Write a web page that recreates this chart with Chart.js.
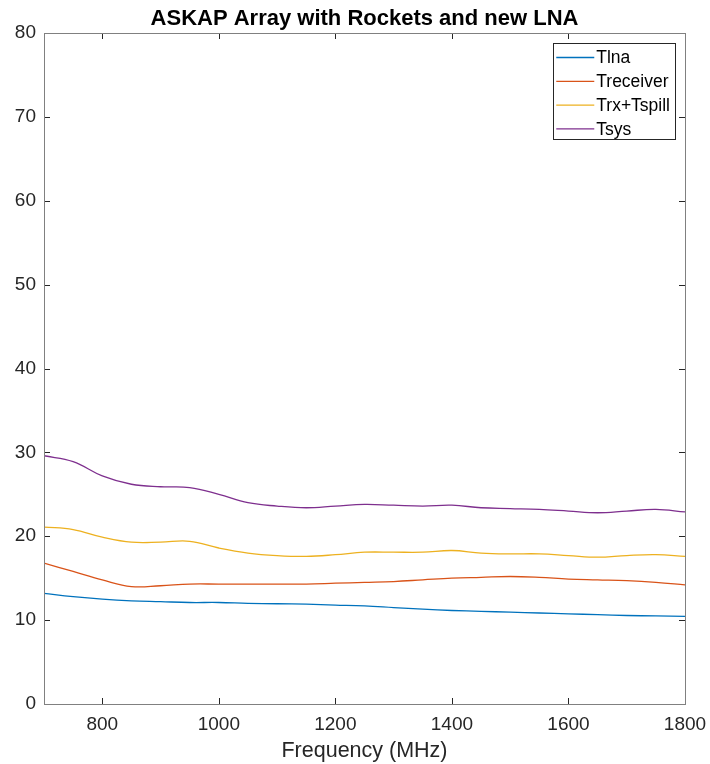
<!DOCTYPE html>
<html>
<head>
<meta charset="utf-8">
<script src="https://cdn.jsdelivr.net/npm/chart.js@4/dist/chart.umd.min.js"></script>
<style>
  html, body { margin: 0; padding: 0; background: #fff; }
  #wrap { width: 710px; height: 764px; }
</style>
</head>
<body>
<div id="wrap"><canvas id="askapChart" width="710" height="764"></canvas></div>
<script>
// frequency axis (MHz) and temperatures
const freqs = [700, 750, 800, 850, 900, 950, 1000, 1050, 1100, 1150, 1200, 1250,
  1300, 1350, 1400, 1450, 1500, 1550, 1600, 1650, 1700, 1750, 1800];
const tlna = [13.2, 12.8, 12.5, 12.3, 12.2, 12.1, 12.1, 12.0, 11.95, 11.9, 11.8, 11.7,
  11.5, 11.3, 11.15, 11.05, 10.95, 10.85, 10.75, 10.65, 10.55, 10.5, 10.45];
const treceiver = [16.8, 15.8, 14.8, 14.0, 14.1, 14.3, 14.3, 14.3, 14.3, 14.3, 14.4, 14.5,
  14.6, 14.8, 15.0, 15.1, 15.2, 15.1, 14.9, 14.8, 14.7, 14.5, 14.2];
const trxSpill = [21.1, 20.8, 19.9, 19.3, 19.3, 19.4, 18.6, 18.0, 17.7, 17.6, 17.8, 18.1,
  18.1, 18.1, 18.3, 18.0, 17.9, 17.9, 17.7, 17.5, 17.7, 17.8, 17.6];
const tsys = [29.6, 28.9, 27.2, 26.2, 25.9, 25.8, 25.0, 24.0, 23.6, 23.4, 23.6, 23.8,
  23.7, 23.6, 23.7, 23.4, 23.3, 23.2, 23.0, 22.8, 23.0, 23.2, 22.9];

const seriesNames = ['Tlna', 'Treceiver', 'Trx+Tspill', 'Tsys'];
const seriesColors = ['#0072BD', '#D95319', '#EDB120', '#7E2F8E'];

const xTicks = [800, 1000, 1200, 1400, 1600, 1800];
const yTicks = [0, 10, 20, 30, 40, 50, 60, 70, 80];

const chartTitle = 'ASKAP Array with Rockets and new LNA';

const FONT = "'Liberation Sans', Arial, Helvetica, sans-serif";
const AXIS_COLOR = '#262626';

function toPoints(ys) {
  return freqs.map((f, i) => ({ x: f, y: ys[i] }));
}

// matlab style box: frame with inward ticks on all four sides
const boxPlugin = {
  id: 'boxTicks',
  afterDatasetsDraw(chart) {
    const { ctx, chartArea: a, scales } = chart;
    const len = 6;
    ctx.save();
    ctx.strokeStyle = AXIS_COLOR;
    ctx.lineWidth = 1;
    ctx.beginPath();
    scales.x.ticks.forEach(t => {
      const px = Math.round(scales.x.getPixelForValue(t.value)) + 0.5;
      ctx.moveTo(px, a.bottom); ctx.lineTo(px, a.bottom - len);
      ctx.moveTo(px, a.top); ctx.lineTo(px, a.top + len);
    });
    scales.y.ticks.forEach(t => {
      const py = Math.round(scales.y.getPixelForValue(t.value)) + 0.5;
      ctx.moveTo(a.left, py); ctx.lineTo(a.left + len, py);
      ctx.moveTo(a.right, py); ctx.lineTo(a.right - len, py);
    });
    ctx.stroke();
    ctx.strokeStyle = '#808080';
    ctx.strokeRect(Math.round(a.left) + 0.5, Math.round(a.top) + 0.5,
      Math.round(a.right - a.left), Math.round(a.bottom - a.top));

    // title centred over the axes, like matlab
    ctx.fillStyle = '#000';
    ctx.font = 'bold 22px ' + FONT;
    ctx.textAlign = 'center';
    ctx.textBaseline = 'alphabetic';
    ctx.fillText(chartTitle, (a.left + a.right) / 2, 25);
    ctx.restore();
  }
};

// boxed legend in the top right corner
const legendPlugin = {
  id: 'boxLegend',
  afterDraw(chart) {
    const { ctx, chartArea: a } = chart;
    ctx.save();
    ctx.font = '17.5px ' + FONT;
    const labels = chart.data.datasets.map(d => d.label);
    const textW = Math.max(...labels.map(l => ctx.measureText(l).width));
    const lineLen = 38, rowH = 23.8;
    const w = 3 + lineLen + 2 + textW + 5;
    const h = rowH * labels.length + 1;
    const right = a.right - 10, top = a.top + 10;
    const left = right - w;
    ctx.fillStyle = '#fff';
    ctx.fillRect(left, top, w, h);
    ctx.strokeStyle = AXIS_COLOR;
    ctx.lineWidth = 1;
    ctx.strokeRect(Math.round(left) + 0.5, Math.round(top) + 0.5, Math.round(w), Math.round(h));
    ctx.textBaseline = 'middle';
    chart.data.datasets.forEach((d, i) => {
      const cy = top + 14.5 + rowH * i;
      ctx.strokeStyle = d.borderColor;
      ctx.lineWidth = 1.3;
      ctx.beginPath();
      ctx.moveTo(left + 3, cy);
      ctx.lineTo(left + 3 + lineLen, cy);
      ctx.stroke();
      ctx.fillStyle = '#000';
      ctx.fillText(d.label, left + 3 + lineLen + 2, cy + 1);
    });
    ctx.restore();
  }
};

window.addEventListener('DOMContentLoaded', () => {
  const ctx = document.getElementById('askapChart').getContext('2d');
  const allSeries = [tlna, treceiver, trxSpill, tsys];

  new Chart(ctx, {
    type: 'line',
    data: {
      datasets: allSeries.map((ys, i) => ({
        label: seriesNames[i],
        data: toPoints(ys),
        borderColor: seriesColors[i],
        backgroundColor: seriesColors[i],
        borderWidth: 1.3,
        pointRadius: 0,
        tension: 0.4,
        fill: false
      }))
    },
    options: {
      responsive: false,
      animation: false,
      layout: {
        autoPadding: false,
        padding: { top: 33, right: 25, bottom: 0, left: 0 }
      },
      scales: {
        x: {
          type: 'linear',
          min: 700,
          max: 1800,
          afterBuildTicks: s => { s.ticks = xTicks.map(v => ({ value: v })); },
          afterFit: s => { s.height = 60; s.paddingLeft = 0; s.paddingRight = 0; },
          grid: { display: false, drawTicks: false },
          border: { display: false },
          ticks: {
            color: AXIS_COLOR,
            padding: 9,
            maxRotation: 0,
            callback: v => String(v),
            font: { family: FONT, size: 19 }
          },
          title: {
            display: true,
            text: 'Frequency (MHz)',
            color: AXIS_COLOR,
            font: { family: FONT, size: 21.5 },
            padding: { top: 0, bottom: 0 }
          }
        },
        y: {
          min: 0,
          max: 80,
          afterBuildTicks: s => { s.ticks = yTicks.map(v => ({ value: v })); },
          afterFit: s => { s.width = 44; s.paddingTop = 0; s.paddingBottom = 0; },
          grid: { display: false, drawTicks: false },
          border: { display: false },
          ticks: {
            color: AXIS_COLOR,
            padding: 8,
            callback: v => String(v),
            font: { family: FONT, size: 19 }
          }
        }
      },
      plugins: {
        legend: { display: false },
        tooltip: { enabled: false },
        title: { display: false }
      }
    },
    plugins: [boxPlugin, legendPlugin]
  });
});
</script>
</body>
</html>
